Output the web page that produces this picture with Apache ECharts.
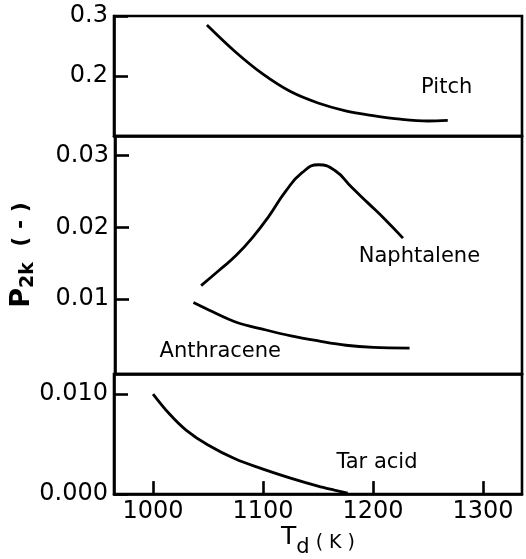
<!DOCTYPE html>
<html><head><meta charset="utf-8">
<script src="https://cdn.jsdelivr.net/npm/echarts@6/dist/echarts.min.js"></script>
<style>html,body{margin:0;padding:0;background:#fff}#c{width:526px;height:559px}</style>
</head><body><div id="c"></div>
<script>
// Data: [T_d (K), P_2k (-)]
var pitch = [[1049,0.285],[1075,0.240],[1100,0.203],[1125,0.174],[1150,0.155],[1175,0.142],[1200,0.134],[1225,0.128],[1250,0.125],[1268,0.126]];
var naphtalene = [[1043,0.0119],[1060,0.0141],[1075,0.0161],[1090,0.0186],[1105,0.0216],[1120,0.0250],[1135,0.0276],[1150,0.0287],[1165,0.0279],[1180,0.0256],[1195,0.0234],[1210,0.0212],[1227,0.0185]];
var anthracene = [[1036,0.00953],[1050,0.0085],[1075,0.0068],[1100,0.0058],[1125,0.0049],[1150,0.0042],[1175,0.0036],[1200,0.0033],[1233,0.0032]];
var tarAcid = [[1000,0.0100],[1015,0.0080],[1030,0.0064],[1050,0.0049],[1075,0.0035],[1100,0.0025],[1125,0.0016],[1150,0.0008],[1165,0.0004],[1177,0.0001]];
var xTicks = [1000,1100,1200,1300];
var yTicksTop = [0.2,0.3];
var yTicksMid = [0.01,0.02,0.03];
var yTicksBot = [0,0.01];
var seriesNames = ['Pitch','Naphtalene','Anthracene','Tar acid'];
// label anchor points in data coordinates
var labelAnchors = [[1267,0.18],[1242,0.0159],[1060.5,0.0027],[1203.6,0.00315]];

var chart = echarts.init(document.getElementById('c'), null, {renderer:'canvas'});
var font = 'DejaVu Sans';
var lineW = 2.8;
var grids = [
  {left:114, width:408, top:16, height:120},
  {left:114, width:408, top:136, height:238},
  {left:114, width:408, top:374, height:128}
].map(function(g){ g.show = true; g.borderColor = '#000'; g.borderWidth = 2.6; g.backgroundColor='transparent'; return g; });

function xAx(i, bottom){
  return {
    type:'value', gridIndex:i, min:964.5, max:1335.5,
    axisLine:{show:true, onZero:false, lineStyle:{color:'#000', width:2.6}},
    axisTick:{show:bottom, inside:true, length:13, customValues:xTicks, lineStyle:{color:'#000', width:2.6}},
    axisLabel:{show:bottom, customValues:xTicks, color:'#000', fontFamily:font, fontSize:24, margin:6,
      formatter:function(v){return String(v);}},
    splitLine:{show:false},
    name: bottom ? '{t|T}{d|d}{k| ( K )}' : '',
    nameLocation:'middle', nameGap:27,
    nameTextStyle:{rich:{
      t:{fontFamily:font, fontSize:25, color:'#000', verticalAlign:'top'},
      d:{fontFamily:font, fontSize:21, color:'#000', padding:[12,0,0,0]},
      k:{fontFamily:font, fontSize:19, color:'#000', padding:[4,0,0,0]}
    }}
  };
}
function yAx(i, min, max, ticks, fmt, withName){
  var o = {
    type:'value', gridIndex:i, min:min, max:max,
    axisLine:{show:true, onZero:false, lineStyle:{color:'#000', width:2.6}},
    axisTick:{show:true, inside:true, length:14, customValues:ticks, lineStyle:{color:'#000', width:2.6}},
    axisLabel:{show:true, customValues:ticks, color:'#000', fontFamily:font, fontSize:24, margin:6, formatter:fmt},
    splitLine:{show:false}
  };
  if (withName){
    o.name = '{p|P}{s|2k}{t|  ( - )}';
    o.nameLocation = 'middle';
    o.nameRotate = 90;
    o.nameGap = 77;
    o.nameTextStyle = {rich:{
      p:{fontFamily:font, fontSize:27, fontWeight:'bold', color:'#000'},
      s:{fontFamily:font, fontSize:19, fontWeight:'bold', color:'#000', padding:[14,0,0,0]},
      t:{fontFamily:font, fontSize:22, fontWeight:'bold', color:'#000'}
    }};
  }
  return o;
}
function lineSeries(name, data, xi, sm){
  return {name:name, type:'line', xAxisIndex:xi, yAxisIndex:xi, data:data, smooth:sm,
    symbol:'none', lineStyle:{color:'#000', width:lineW}, silent:true, animation:false};
}
function labelSeries(name, pt, xi){
  return {type:'scatter', xAxisIndex:xi, yAxisIndex:xi, data:[pt], symbolSize:1, silent:true, animation:false,
    itemStyle:{color:'rgba(0,0,0,0)'},
    label:{show:true, position:'inside', formatter:name, color:'#000', opacity:1, fontFamily:font, fontSize:21}};
}
chart.setOption({
  animation:false,
  grid:grids,
  xAxis:[xAx(0,false), xAx(1,false), xAx(2,true)],
  yAxis:[
    yAx(0, 0.1, 0.3, yTicksTop, function(v){return v.toFixed(1);}, false),
    yAx(1, -0.0004, 0.0327, yTicksMid, function(v){return v.toFixed(2);}, true),
    yAx(2, 0, 0.012, yTicksBot, function(v){return v.toFixed(3);}, false)
  ],
  series:[
    lineSeries(seriesNames[0], pitch, 0, 0.35),
    lineSeries(seriesNames[1], naphtalene, 1, 0.5),
    lineSeries(seriesNames[2], anthracene, 1, 0.35),
    lineSeries(seriesNames[3], tarAcid, 2, 0.35),
    labelSeries(seriesNames[0], labelAnchors[0], 0),
    labelSeries(seriesNames[1], labelAnchors[1], 1),
    labelSeries(seriesNames[2], labelAnchors[2], 1),
    labelSeries(seriesNames[3], labelAnchors[3], 2)
  ]
});
</script></body></html>
